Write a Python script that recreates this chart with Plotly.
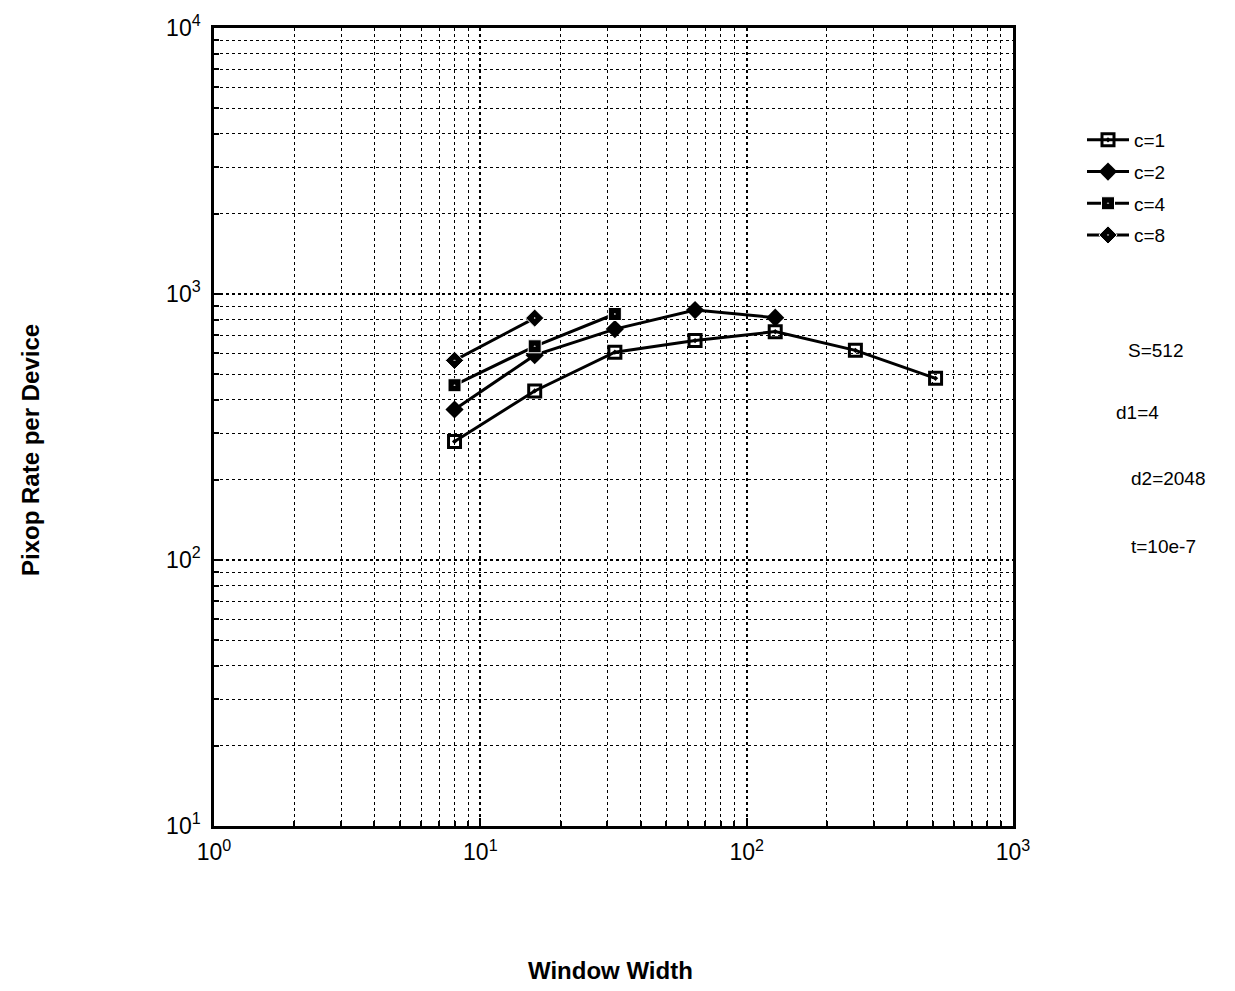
import plotly.graph_objects as go

window_width = [8, 16, 32, 64, 128, 256, 512]
c1 = [279, 432, 604, 668, 722, 614, 482]
c2_x = [8, 16, 32, 64, 128]
c2 = [368, 589, 738, 870, 815]
c4_x = [8, 16, 32]
c4 = [454, 636, 841]
c8_x = [8, 16]
c8 = [563, 812]

names = ["c=1", "c=2", "c=4", "c=8"]
x_ticks = [1, 10, 100, 1000]
x_ticktext = ["10<sup>0</sup>", "10<sup>1</sup>", "10<sup>2</sup>", "10<sup>3</sup>"]
y_ticks = [10, 100, 1000, 10000]
y_ticktext = ["10<sup>1</sup>", "10<sup>2</sup>", "10<sup>3</sup>", "10<sup>4</sup>"]
notes = ["S=512", "d1=4", "d2=2048", "t=10e-7"]

FONT = "Liberation Sans, Arial"
fig = go.Figure()
line = dict(color="black", width=3)
fig.add_trace(go.Scatter(x=window_width, y=c1, name=names[0], legendgroup="g1", mode="lines+markers", line=line,
                         marker=dict(symbol="square-open-dot", size=12, color="black", line=dict(width=3, color="black"))))
fig.add_trace(go.Scatter(x=c2_x, y=c2, name=names[1], legendgroup="g2", mode="lines+markers", line=line,
                         marker=dict(symbol="diamond", size=14, color="black")))
fig.add_trace(go.Scatter(x=c4_x, y=c4, name=names[2], legendgroup="g3", mode="lines+markers", line=line,
                         marker=dict(symbol="square-dot", size=13, color="black", line=dict(width=1, color="white"))))
fig.add_trace(go.Scatter(x=c8_x, y=c8, name=names[3], legendgroup="g4", mode="lines+markers", line=line,
                         marker=dict(symbol="diamond-dot", size=14, color="black", line=dict(width=1, color="white"))))

axis_common = dict(
    type="log", showline=True, linecolor="black", linewidth=2.5, mirror=True,
    showgrid=True, gridcolor="black", griddash="dot", gridwidth=1.8,
    minor=dict(showgrid=True, gridcolor="black", griddash="dot", gridwidth=1.4,
               ticks="inside", ticklen=5, tickcolor="black", dtick="D1"),
    ticks="inside", ticklen=8, tickcolor="black", tickwidth=2,
    tickfont=dict(family=FONT, size=23, color="black"),
    zeroline=False, automargin=False,
)
fig.update_xaxes(range=[0, 3], tickvals=x_ticks, ticktext=x_ticktext, ticklabelstandoff=4, **axis_common)
fig.update_yaxes(range=[1, 4], tickvals=y_ticks, ticktext=y_ticktext, ticklabelstandoff=6, **axis_common)

# plot area on screen: x 214..1013, y 28..826
PX0, PW, PY1, PH = 214, 799, 826, 798


def px(x):
    return (x - PX0) / PW


def py(y):
    return (PY1 - y) / PH


ann = [
    dict(text="<b>Window Width</b>", x=px(610), y=py(970), xref="paper", yref="paper", xanchor="center",
         showarrow=False, font=dict(size=24, family=FONT, color="black"), yanchor="middle"),
    dict(text="<b>Pixop Rate per Device</b>", x=px(30), y=py(450), xref="paper", yref="paper",
         xanchor="center", yanchor="middle",
         showarrow=False, textangle=-90, font=dict(size=24, family=FONT, color="black")),
]
note_pos = [(1155, 350), (1137, 412), (1168, 478), (1163, 546)]
for t, (nx, ny) in zip(notes, note_pos):
    ann.append(dict(text=t, x=px(nx), y=py(ny), xref="paper", yref="paper",
                    xanchor="center", yanchor="middle",
                    showarrow=False, font=dict(size=19, family=FONT, color="black")))

# page body adds 8px offset; margins compensate
fig.update_layout(
    width=1235, height=991,
    margin=dict(l=206, r=230, t=20, b=173, autoexpand=False),
    plot_bgcolor="white", paper_bgcolor="white",
    annotations=ann,
    legend=dict(x=px(1082), y=py(121), xanchor="left", yanchor="top",
                font=dict(size=19, family=FONT, color="black"),
                bgcolor="rgba(0,0,0,0)", itemwidth=42, tracegroupgap=4),
)
fig.write_html("out.html")
